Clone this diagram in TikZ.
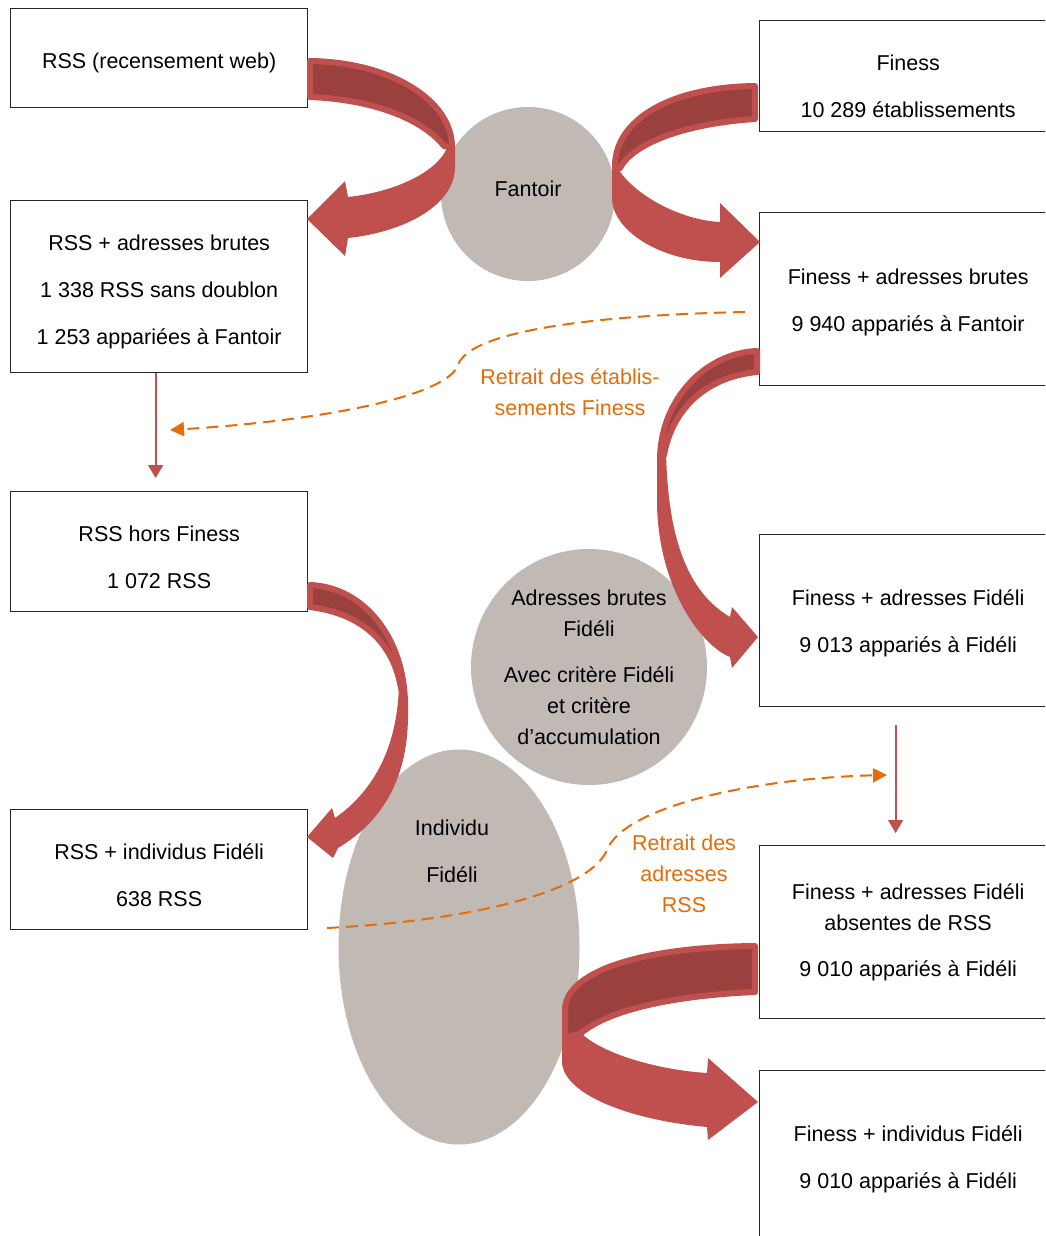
\documentclass[tikz,border=0pt]{standalone}
\usepackage{fontspec}
\setmainfont{Liberation Sans}
\usetikzlibrary{arrows.meta,shapes.geometric}

\definecolor{ribbonred}{HTML}{C0504D}
\definecolor{ribbondark}{HTML}{9A403E}
\definecolor{discgray}{HTML}{C1B9B4}
\definecolor{retraitorange}{HTML}{E46C0A}

% invisible strut that pushes the first line of a box down
\newcommand{\boxstrut}[1][26pt]{\rule{0pt}{#1}}

\tikzset{
  box/.style={draw=black!85, line width=1.3pt, minimum width=297pt, align=center,
    anchor=north west, font=\fontsize{21.5}{47}\selectfont},
  disc/.style={circle, fill=discgray, align=center, inner sep=0pt,
    font=\fontsize{21.5}{31}\selectfont},
  ribbonback/.style={fill=ribbondark, draw=ribbonred, line width=6pt, line join=round},
  ribbonfront/.style={fill=ribbonred},
  thinarrow/.style={draw=ribbonred, line width=2pt, -{Triangle[width=15pt,length=13pt]}},
  retrait/.style={draw=retraitorange, line width=2pt, dash pattern=on 12pt off 7pt,
    -{Triangle[width=14pt,length=14pt]}},
  retraittext/.style={text=retraitorange, align=center, font=\fontsize{21.5}{31}\selectfont}
}

\begin{document}
\begin{tikzpicture}[x=1pt, y=-1pt]
  \useasboundingbox (0,0) rectangle (1045,1236);
  \clip (0,0) rectangle (1045,1236);

  % Left column
  \node[box, minimum height=99pt] (rss) at (10,8) {\boxstrut RSS (recensement web)};
  \node[box, minimum height=172pt] (rssbrut) at (10,200)
    {\boxstrut RSS + adresses brutes\\1 338 RSS sans doublon\\1 253 appariées à Fantoir};
  \node[box, minimum height=120pt] (rsshors) at (10,491) {\boxstrut RSS hors Finess\\1 072 RSS};
  \node[box, minimum height=120pt] (rssindiv) at (10,809) {\boxstrut RSS + individus Fidéli\\638 RSS};

  % Right column
  \node[box, minimum height=111pt] (finess) at (759,20) {\boxstrut[36pt]Finess\\10 289 établissements};
  \node[box, minimum height=173pt] (finbrut) at (759,212)
    {\boxstrut[22pt]Finess + adresses brutes\\9 940 appariés à Fantoir};
  \node[box, minimum height=172pt] (finfid) at (759,534)
    {\boxstrut[22pt]Finess + adresses Fidéli\\9 013 appariés à Fidéli};
  \node[box, minimum height=173pt, font=\fontsize{21.5}{31}\selectfont] (finabs) at (759,845)
    {Finess + adresses Fidéli\\absentes de RSS\\[15.5pt]9 010 appariés à Fidéli};
  \node[box, minimum height=172pt] (finindiv) at (759,1070)
    {\boxstrut[22pt]Finess + individus Fidéli\\9 010 appariés à Fidéli};

  % Sources
  \node[disc, minimum size=174pt] (fantoir) at (528,194) {Fantoir\rule[-10pt]{0pt}{10pt}};
  \node[disc, minimum size=236pt] (adrfid) at (589,667)
    {Adresses brutes\\Fidéli\\[15pt]Avec critère Fidéli\\et critère\\d’accumulation};
  \node[ellipse, fill=discgray, minimum width=241pt, minimum height=395pt, inner sep=0pt,
    label={[xshift=-7pt, yshift=96pt, align=center,
      font=\fontsize{21.5}{47}\selectfont]center:Individu\\Fidéli}] (indiv) at (459,947) {};

  % Curved arrows
  \draw[ribbonback] (310,61) .. controls (390,62) and (452,100) .. (452,147)
    -- (444,146) .. controls (425,122) and (380,100) .. (310,97) -- cycle;
  \fill[ribbonfront] (455,146) -- (455,167) .. controls (455,205) and (405,232) .. (348,238)
    -- (345,256) -- (307,219) -- (345,181) -- (348,197)
    .. controls (395,192) and (437,172) .. (447,148) -- cycle;

  \draw[ribbonback] (755,86) .. controls (670,87) and (615,120) .. (615,166)
    -- (620,168) .. controls (632,145) and (680,124) .. (755,119) -- cycle;
  \fill[ribbonfront] (612,164) -- (612,198) .. controls (612,230) and (660,262) .. (720,262)
    -- (720,278) -- (760,242) -- (720,203) -- (720,222)
    .. controls (680,220) and (635,195) .. (619,170) -- cycle;

  \draw[ribbonback] (757,351) .. controls (705,353) and (660,400) .. (660,460)
    -- (664,455) .. controls (672,410) and (705,377) .. (757,372) -- cycle;
  \fill[ribbonfront] (657,452) -- (657,500) .. controls (657,585) and (700,645) .. (730,657)
    -- (732,668) -- (758,637) -- (732,607) -- (730,617)
    .. controls (688,592) and (668,540) .. (666,452) -- cycle;

  \draw[ribbonback] (310,585) .. controls (365,587) and (405,640) .. (405,705)
    -- (400,683) .. controls (392,645) and (365,614) .. (310,607) -- cycle;
  \fill[ribbonfront] (408,698) -- (408,715) .. controls (408,775) and (385,820) .. (338,848)
    -- (333,858) -- (307,837) -- (332,808) -- (335,818)
    .. controls (375,790) and (398,745) .. (399,683) -- cycle;

  \draw[ribbonback] (755,946) .. controls (640,947) and (565,972) .. (565,1010)
    -- (565,1037) -- (580,1034) .. controls (605,1012) and (665,996) .. (755,992) -- cycle;
  \fill[ribbonfront] (562,1036) -- (562,1063) .. controls (565,1095) and (630,1120) .. (707,1127)
    -- (708,1140) -- (758,1102) -- (708,1058) -- (707,1073)
    .. controls (660,1070) and (605,1055) .. (582,1034) -- cycle;

  % Straight arrows
  \draw[thinarrow] ([xshift=-3.5pt]rssbrut.south) -- ([xshift=-3.5pt, yshift=13pt]rsshors.north);
  \draw[thinarrow] ([xshift=-12.5pt, yshift=-18pt]finfid.south) -- ([xshift=-12.5pt, yshift=12pt]finabs.north);

  % Removals
  \coordinate (retraitA) at (745,312);
  \coordinate (retraitB) at (170,430);
  \coordinate (retraitC) at (327,928);
  \coordinate (retraitD) at (887,775);
  \draw[retrait] (retraitA) .. controls (600,315) and (470,330) .. (458,365)
    .. controls (448,395) and (330,420) .. (retraitB);
  \draw[retrait] (retraitC) .. controls (480,920) and (590,890) .. (607,850)
    .. controls (625,805) and (760,778) .. (retraitD);
  \node[retraittext] (retraitfiness) at (570,392) {Retrait des établis-\\sements Finess};
  \node[retraittext] (retraitrss) at (684,874) {Retrait des\\adresses\\RSS};
\end{tikzpicture}
\end{document}
